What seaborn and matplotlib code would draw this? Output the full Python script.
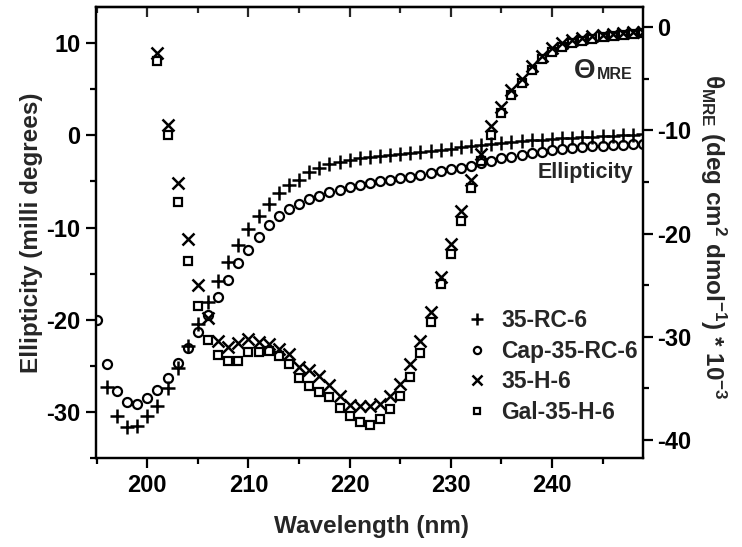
import matplotlib
matplotlib.use("Agg")
import matplotlib.pyplot as plt
from matplotlib.lines import Line2D
from matplotlib.ticker import MultipleLocator
import pandas as pd
import seaborn as sns

# Wavelength grids (nm)
wl_rc = list(range(196, 250))
wl_cap = list(range(195, 250))
wl_h = list(range(201, 250))

# Ellipticity (milli degrees), left axis
ell_35_rc_6 = [
    -27.3, -30.5, -31.6, -31.5, -30.5, -29.4, -27.4, -25.2, -22.9, -20.5,
    -18.1, -15.8, -13.7, -11.9, -10.2, -8.7, -7.4, -6.3, -5.4, -4.8,
    -4.0, -3.5, -3.1, -2.9, -2.7, -2.5, -2.35, -2.2, -2.1, -2.0,
    -1.9, -1.8, -1.7, -1.6, -1.45, -1.3, -1.15, -1.0, -0.9, -0.8,
    -0.7, -0.6, -0.5, -0.45, -0.4, -0.3, -0.25, -0.2, -0.15, -0.1,
    -0.05, 0.0, 0.05, 0.1,
]
ell_cap_35_rc_6 = [
    -20.0, -24.8, -27.7, -28.9, -29.2, -28.5, -27.6, -26.3, -24.7, -23.1,
    -21.3, -19.5, -17.5, -15.7, -13.9, -12.4, -11.0, -9.7, -8.8, -8.0,
    -7.4, -6.9, -6.6, -6.2, -5.9, -5.6, -5.4, -5.2, -5.0, -4.8,
    -4.6, -4.5, -4.3, -4.1, -3.9, -3.7, -3.5, -3.3, -3.0, -2.8,
    -2.5, -2.3, -2.1, -1.9, -1.8, -1.6, -1.5, -1.4, -1.3, -1.2,
    -1.1, -1.0, -1.0, -0.9, -0.9,
]

# Mean residue ellipticity (deg cm2 dmol-1 * 10^-3), right axis
mre_35_h_6 = [
    -2.5, -9.5, -15.1, -20.5, -25.0, -28.2, -30.4, -31.0, -30.6, -30.2,
    -30.5, -30.7, -31.2, -31.7, -32.9, -33.2, -33.8, -34.7, -35.8, -36.6,
    -36.7, -36.7, -36.5, -35.8, -34.6, -32.7, -30.4, -27.6, -24.2, -21.0,
    -17.8, -14.8, -12.3, -9.6, -7.7, -6.1, -5.0, -3.7, -2.8, -2.0,
    -1.5, -1.2, -1.0, -0.8, -0.7, -0.6, -0.5, -0.4, -0.4,
]
mre_gal_35_h_6 = [
    -3.3, -10.4, -16.9, -22.7, -27.0, -30.3, -31.8, -32.4, -32.4, -31.5,
    -31.5, -31.4, -31.9, -32.7, -34.0, -34.8, -35.4, -35.9, -36.9, -37.7,
    -38.3, -38.6, -38.0, -37.0, -35.8, -33.9, -31.6, -28.6, -24.9, -22.0,
    -18.8, -15.6, -13.0, -10.4, -8.3, -6.6, -5.4, -4.1, -3.1, -2.4,
    -1.9, -1.5, -1.3, -1.1, -0.9, -0.8, -0.7, -0.6, -0.5,
]

series_labels = ["35-RC-6", "Cap-35-RC-6", "35-H-6", "Gal-35-H-6"]

sns.set_theme(style="ticks")
plt.rcParams["font.family"] = ["Liberation Sans", "DejaVu Sans"]
plt.rcParams["font.weight"] = "bold"
plt.rcParams["axes.labelweight"] = "bold"
plt.rcParams["axes.unicode_minus"] = False
plt.rcParams["mathtext.fontset"] = "custom"
plt.rcParams["mathtext.rm"] = "Liberation Sans:bold"
plt.rcParams["mathtext.it"] = "Liberation Sans:bold"
plt.rcParams["mathtext.bf"] = "Liberation Sans:bold"
plt.rcParams["mathtext.default"] = "rm"

W, H = 742, 547
fig = plt.figure(figsize=(W / 100, H / 100), dpi=100)
ax_l, ax_r, ax_t, ax_b = 96, 643, 7.3, 458.3
ax = fig.add_axes([ax_l / W, 1 - ax_b / H, (ax_r - ax_l) / W, (ax_b - ax_t) / H])
ax2 = ax.twinx()

styles = {
    "35-RC-6": dict(marker="+", markersize=10, markeredgewidth=1.8),
    "Cap-35-RC-6": dict(marker="o", markersize=6.5, markeredgewidth=1.6, markerfacecolor="none"),
    "35-H-6": dict(marker="x", markersize=9, markeredgewidth=1.8),
    "Gal-35-H-6": dict(marker="s", markersize=6, markeredgewidth=1.6, markerfacecolor="none"),
}

df_rc = pd.DataFrame({"Wavelength": wl_rc, "Value": ell_35_rc_6})
df_cap = pd.DataFrame({"Wavelength": wl_cap, "Value": ell_cap_35_rc_6})
df_h = pd.DataFrame({"Wavelength": wl_h, "Value": mre_35_h_6})
df_gal = pd.DataFrame({"Wavelength": wl_h, "Value": mre_gal_35_h_6})

for df, name, axis in [(df_rc, "35-RC-6", ax), (df_cap, "Cap-35-RC-6", ax),
                       (df_h, "35-H-6", ax2), (df_gal, "Gal-35-H-6", ax2)]:
    sns.lineplot(data=df, x="Wavelength", y="Value", ax=axis, linestyle="",
                 color="black", markeredgecolor="black", estimator=None,
                 sort=False, legend=False, **styles[name])

ax.set_xlim(194.93, 249.0)
ax.set_ylim(-35.05, 13.9)
ax2.set_ylim(-41.8, 1.95)

for a in (ax, ax2):
    for s in a.spines.values():
        s.set_linewidth(1.6)
        s.set_color("black")

ax.xaxis.set_major_locator(MultipleLocator(10))
ax.xaxis.set_minor_locator(MultipleLocator(5))
ax.yaxis.set_major_locator(MultipleLocator(10))
ax.yaxis.set_minor_locator(MultipleLocator(5))
ax2.yaxis.set_major_locator(MultipleLocator(10))
ax2.yaxis.set_minor_locator(MultipleLocator(5))

ax.tick_params(which="both", direction="out", width=1.6, colors="black",
               top=False, right=False, labelsize=17, pad=4)
ax.tick_params(which="major", length=7)
ax.tick_params(which="minor", length=4)
ax2.tick_params(axis="y", which="both", direction="out", width=1.6,
                colors="black", labelsize=17, pad=3)
ax2.tick_params(axis="y", which="major", length=7)
ax2.tick_params(axis="y", which="minor", length=4)

top = ax.secondary_xaxis("top")
top.xaxis.set_major_locator(MultipleLocator(10))
top.xaxis.set_minor_locator(MultipleLocator(5))
top.tick_params(which="both", direction="in", width=1.6, labeltop=False)
top.tick_params(which="major", length=7)
top.tick_params(which="minor", length=4)
top.spines["top"].set_linewidth(1.6)

ax.set_xlabel("Wavelength (nm)", fontsize=17.5, fontweight="bold")
ax.set_ylabel("Ellipticity (milli degrees)", fontsize=17.5, fontweight="bold")
ax2.set_ylabel(r"$\theta_{MRE}$ (deg cm$^{2}$ dmol$^{-1}$) * 10$^{-3}$",
               fontsize=17.5, fontweight="bold", rotation=270)
ax.xaxis.label.set_va("center")
ax.yaxis.label.set_va("center")
ax2.yaxis.label.set_va("center")
pw, ph = ax_r - ax_l, ax_b - ax_t
ax.xaxis.set_label_coords((372 - ax_l) / pw, (ax_b - 526) / ph)
ax.yaxis.set_label_coords((32 - ax_l) / pw, 0.5)
ax2.yaxis.set_label_coords((713 - ax_l) / pw, (ax_b - 237) / ph)

# curve annotations
ax.text((574 - ax_l) / pw, (ax_b - 78) / ph, "\u0398", transform=ax.transAxes,
        fontsize=20, fontweight="bold", ha="left", va="baseline")
ax.text((633 - ax_l) / pw, (ax_b - 79) / ph, "MRE", transform=ax.transAxes,
        fontsize=11.5, fontweight="bold", ha="right", va="baseline")
ax.text((633 - ax_l) / pw, (ax_b - 178) / ph, "Ellipticity", transform=ax.transAxes,
        fontsize=15.5, fontweight="bold", ha="right", va="baseline")

handles = [Line2D([], [], linestyle="", color="black", markeredgecolor="black",
                  **{k: (v * 0.8 if k == "markersize" else v) for k, v in styles[n].items()})
           for n in series_labels]
ax.legend(handles, series_labels, loc="upper left",
          bbox_to_anchor=((466 - ax_l) / pw, (ax_b - 309) / ph),
          frameon=False, handlelength=1.0, handletextpad=0.55,
          labelspacing=0.33, borderpad=0, borderaxespad=0,
          prop={"weight": "bold", "size": 16.5})

fig.savefig("out.png", dpi=100)
